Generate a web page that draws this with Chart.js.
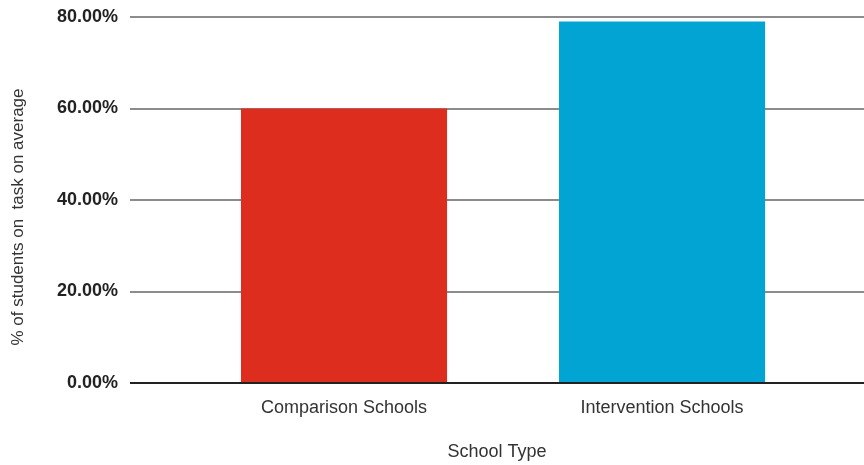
<!DOCTYPE html>
<html>
<head>
<meta charset="utf-8">
<script src="https://cdn.jsdelivr.net/npm/chart.js@4.4.1/dist/chart.umd.min.js"></script>
<style>
  html, body { margin: 0; padding: 0; background: #fff; }
  #wrap { width: 864px; height: 465px; }
</style>
</head>
<body>
<div id="wrap"><canvas id="graph"></canvas></div>
<script>
const schoolTypes = ['Comparison Schools', 'Intervention Schools'];
const onTaskPct = [60.0, 79.0];
const barColors = ['#dd2d1e', '#02a4d4'];
const yTicks = [0, 20, 40, 60, 80];

Chart.defaults.font.family = '"Liberation Sans", Arial, sans-serif';

// y axis title sits a little below the middle of the axis
const yTitleShift = {
  id: 'yTitleShift',
  afterLayout(chart) {
    const y = chart.scales.y;
    if (y._shifted) return;
    const draw = y.drawTitle;
    y.drawTitle = function () {
      this.top += 17; this.bottom += 17;
      draw.call(this);
      this.top -= 17; this.bottom -= 17;
    };
    y._shifted = true;
  }
};

let ctx = document.getElementById('graph').getContext('2d');

let graph = new Chart(ctx, {
  type: 'bar',
  data: {
    datasets: [{
      data: schoolTypes.map((s, i) => ({ x: i, y: onTaskPct[i] })),
      backgroundColor: barColors,
      categoryPercentage: 1,
      barPercentage: 0.648,
    }]
  },
  plugins: [yTitleShift],
  options: {
    responsive: true,
    maintainAspectRatio: false,
    animation: false,
    layout: { padding: 0 },
    plugins: {
      legend: { display: false },
      tooltip: { enabled: false }
    },
    scales: {
      x: {
        type: 'linear',
        offset: false,
        min: -0.673,
        max: 1.635,
        afterBuildTicks: (scale) => {
          scale.ticks = schoolTypes.map((s, i) => ({ value: i }));
        },
        afterFit: (scale) => { scale.height = 82; },
        grid: { display: false },
        border: { display: false },
        ticks: {
          color: '#333',
          padding: 6,
          font: { size: 18 },
          maxRotation: 0,
          callback: (v) => schoolTypes[v]
        },
        title: {
          display: true,
          text: 'School Type',
          color: '#333',
          font: { size: 18 },
          padding: { top: 0, bottom: 2 }
        }
      },
      y: {
        min: 0,
        max: 80,
        afterBuildTicks: (scale) => {
          scale.ticks = yTicks.map(v => ({ value: v }));
        },
        afterFit: (scale) => {
          scale.width = 130;
          scale.paddingTop = 17;
        },
        border: { display: false },
        grid: {
          drawTicks: false,
          lineWidth: 2,
          color: (c) => c.tick && c.tick.value === 0 ? '#222' : '#8c8c8c'
        },
        ticks: {
          color: '#222',
          padding: 12,
          font: { size: 18, weight: 'bold' },
          callback: (v) => v.toFixed(2) + '%'
        },
        title: {
          display: true,
          text: '% of students on  task on average',
          color: '#333',
          font: { size: 17 },
          padding: { top: 8, bottom: 0 }
        }
      }
    }
  }
});
</script>
</body>
</html>
